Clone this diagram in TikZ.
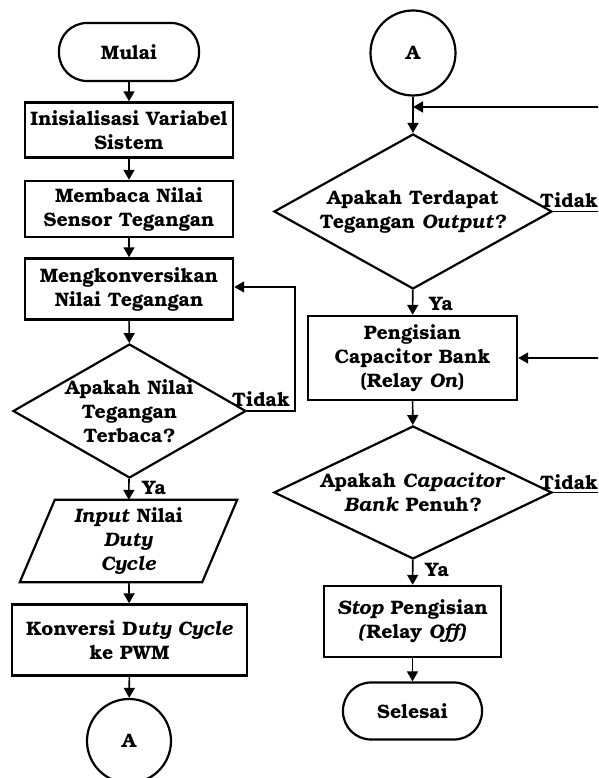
\documentclass[tikz,border=0pt]{standalone}
\usepackage{fontspec}
\setmainfont{TeX Gyre Bonum}
\usetikzlibrary{shapes.geometric,arrows.meta,calc}
\begin{document}
\begin{tikzpicture}[x=1pt,y=1pt,
  font=\fontsize{19.5}{24}\selectfont\bfseries,
  box/.style={draw,line width=2.4pt,rectangle,align=center,inner sep=0pt},
  term/.style={draw,line width=2.2pt,rectangle,rounded corners=28pt,align=center,inner sep=0pt},
  decision/.style={draw,line width=2.2pt,diamond,align=center,inner sep=0pt},
  conn/.style={draw,line width=2.2pt,circle,inner sep=0pt,minimum size=84pt},
  arr/.style={line width=1.6pt,-{Triangle[length=10pt,width=11pt]}},
  lbl/.style={inner sep=0pt}]
\useasboundingbox (0,0) rectangle (598,778);
\clip (0,0) rectangle (598,778);
% left column
\node[term,minimum width=140pt,minimum height=58pt] (mulai) at (129,726) {Mulai};
\node[box,minimum width=208pt,minimum height=55pt] (init) at (129,648) {Inisialisasi Variabel\\Sistem};
\node[box,minimum width=208pt,minimum height=56pt] (baca) at (129,569) {Membaca Nilai\\Sensor Tegangan};
\node[box,minimum width=208pt,minimum height=61pt] (konv) at (129,489) {Mengkonversikan\\Nilai Tegangan};
\node[decision,minimum width=233pt,minimum height=134pt,text width=10pt] (dec1) at (129.5,367) {};
\node[lbl,align=center] at (dec1) {Apakah Nilai\\Tegangan\\Terbaca?};
\node[inner sep=0pt,minimum width=182pt,minimum height=82pt,align=center] (input) at (128.5,237) {\textit{Input} Nilai\\\textit{Duty}\\\textit{Cycle}};
\draw[line width=2.2pt,line join=miter] ($(input.north west)+(17.5,0)$) -- ($(input.north east)+(17.5,0)$) -- ($(input.south east)+(-17.5,0)$) -- ($(input.south west)+(-17.5,0)$) -- cycle;
\node[box,minimum width=235pt,minimum height=71pt] (pwm) at (129.5,138) {Konversi D\textit{uty Cycle}\\ke PWM};
\node[conn] (a1) at (129,37) {A};
% right column
\node[conn,minimum size=85pt] (a2) at (413,725) {A};
\node[decision,minimum width=278pt,minimum height=155pt,text width=10pt] (dec2) at (413,566.5) {};
\node[lbl,align=center] at (dec2) {Apakah Terdapat\\Tegangan \textit{Output?}};
\node[box,minimum width=209pt,minimum height=84pt] (charge) at (412.5,420) {Pengisian\\Capacitor Bank\\(Relay \textit{On})};
\node[decision,minimum width=278pt,minimum height=133pt,text width=10pt] (dec3) at (413,285.5) {};
\node[lbl,align=center] at (dec3) {Apakah \textit{Capacitor}\\\textit{Bank} Penuh?};
\node[box,minimum width=177pt,minimum height=71pt] (stop) at (412.5,156.5) {\textit{Stop} Pengisian\\\textit{(}Relay \textit{Off)}};
\node[term,minimum width=139pt,minimum height=57pt] (selesai) at (412.5,67) {Selesai};
\coordinate (join) at (413,671);
% connectors left
\draw[arr] (mulai) -- (init);
\draw[arr] (init) -- (baca);
\draw[arr] (baca) -- (konv);
\draw[arr] (konv) -- (dec1);
\draw[arr] (dec1) -- (input);
\draw[arr] (input) -- (pwm);
\draw[arr] (pwm) -- (a1);
\draw[arr] (dec1.east) -- ++(48,0) |- ([yshift=2pt]konv.east);
\node[lbl,anchor=south] at (261,371) {Tidak};
\node[lbl,anchor=west] at (142,290) {Ya};
% connectors right
\draw[line width=1.6pt] (a2) -- (join);
\draw[arr] (join) -- (dec2);
\draw[arr] (dec2.east) -- ++(60,0) |- (join);
\draw[arr] (dec2) -- (charge);
\draw[arr] (charge) -- (dec3);
\draw[arr] (dec3.east) -- ++(60,0) |- (charge.east);
\draw[arr] (dec3) -- (stop);
\draw[arr] (stop) -- (selesai);
\node[lbl,anchor=south west] at (540,570) {Tidak};
\node[lbl,anchor=south west] at (540,288) {Tidak};
\node[lbl,anchor=west] at (429,474) {Ya};
\node[lbl,anchor=west] at (425,208) {Ya};
\end{tikzpicture}
\end{document}
